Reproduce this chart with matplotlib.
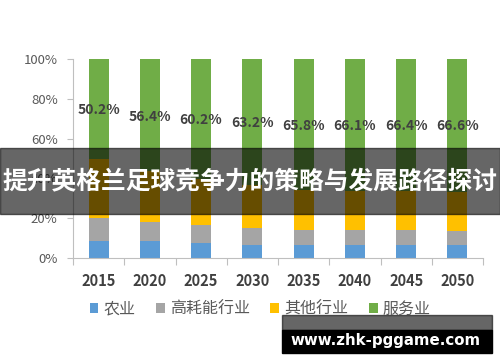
import numpy as np
import matplotlib.pyplot as plt
from matplotlib.patches import Rectangle

plt.rcParams['font.family'] = ['Noto Sans CJK SC', 'DejaVu Sans']

years = ['2015', '2020', '2025', '2030', '2035', '2040', '2045', '2050']
agri = np.array([8.5, 8.4, 7.5, 6.7, 6.4, 6.4, 6.4, 6.4])
heavy = np.array([11.8, 9.7, 9.3, 8.4, 7.5, 7.5, 7.5, 7.4])
service = np.array([50.2, 56.4, 60.2, 63.2, 65.8, 66.1, 66.4, 66.6])
other = 100 - agri - heavy - service
names = ['农业', '高耗能行业', '其他行业', '服务业']
# label heights (percent) as placed in the picture
label_pos = [74.4, 70.9, 69.3, 67.8, 66.3, 66.3, 66.3, 66.3]

colors = ['#5B9BD5', '#A5A5A5', '#FFC000', '#70AD47']

fig = plt.figure(figsize=(5, 3.62), dpi=100)
ax = fig.add_axes([73/500, 104/362, 410/500, 199/362])

x = np.arange(len(years))
w = 0.39
bottom = np.zeros(len(years))
for vals, c, n in zip([agri, heavy, other, service], colors, names):
    ax.bar(x, vals, w, bottom=bottom, color=c, label=n, zorder=2)
    bottom += vals

for i, v in enumerate(service):
    ax.text(x[i], label_pos[i], f'{v:.1f}%', ha='center', va='center',
            fontsize=10, fontweight='bold', color='#404040')

ax.set_xlim(-0.5, len(years) - 0.5)
ax.set_ylim(0, 100)
ax.set_yticks(range(0, 101, 20))
ax.set_yticklabels([f'{t}%' for t in range(0, 101, 20)])
ax.tick_params(axis='y', length=4, width=0.8, color='#BFBFBF', labelsize=9.5,
               labelcolor='#595959', pad=7)
ax.set_xticks(x)
ax.set_xticklabels(years)
ax.set_xticks(np.arange(-0.5, len(years)), minor=True)
ax.tick_params(axis='x', which='major', length=0, labelsize=10.5,
               labelcolor='#404040', pad=11)
for lab in ax.get_xticklabels():
    lab.set_fontweight('bold')
ax.tick_params(axis='x', which='minor', length=5, width=0.8, color='#BFBFBF')
for s in ['top', 'right']:
    ax.spines[s].set_visible(False)
for s in ['left', 'bottom']:
    ax.spines[s].set_color('#BFBFBF')
    ax.spines[s].set_linewidth(0.8)

fig.legend(loc='center', bbox_to_anchor=(0.52, 1 - 309/362), ncol=4,
           frameon=False, handlelength=0.55, handleheight=0.55,
           handletextpad=0.3, columnspacing=1.3, fontsize=11.5,
           labelcolor='#595959')

# overlay banner
fig.patches.append(Rectangle((0, 148/362), 1, 66/362, transform=fig.transFigure,
                             color='black', alpha=0.6, zorder=5))
fig.text(0.5, 1 - 181/362, '提升英格兰足球竞争力的策略与发展路径探讨',
         ha='center', va='center', color='white', fontsize=17.8,
         fontweight='bold', zorder=6)

# watermark
fig.patches.append(Rectangle((282/500, 1 - 330/362), 210/500, 15/362,
                             transform=fig.transFigure, color='black',
                             alpha=0.6, zorder=5))
fig.patches.append(Rectangle((282/500, 1 - 353/362), 210/500, 23/362,
                             transform=fig.transFigure, color='black',
                             zorder=5))
fig.text(386/500, 1 - 340/362, 'www.zhk-pggame.com', ha='center', va='center',
         color='white', fontsize=10.8, fontweight='bold',
         family='DejaVu Sans', zorder=6)

fig.savefig('out.png', dpi=100)
